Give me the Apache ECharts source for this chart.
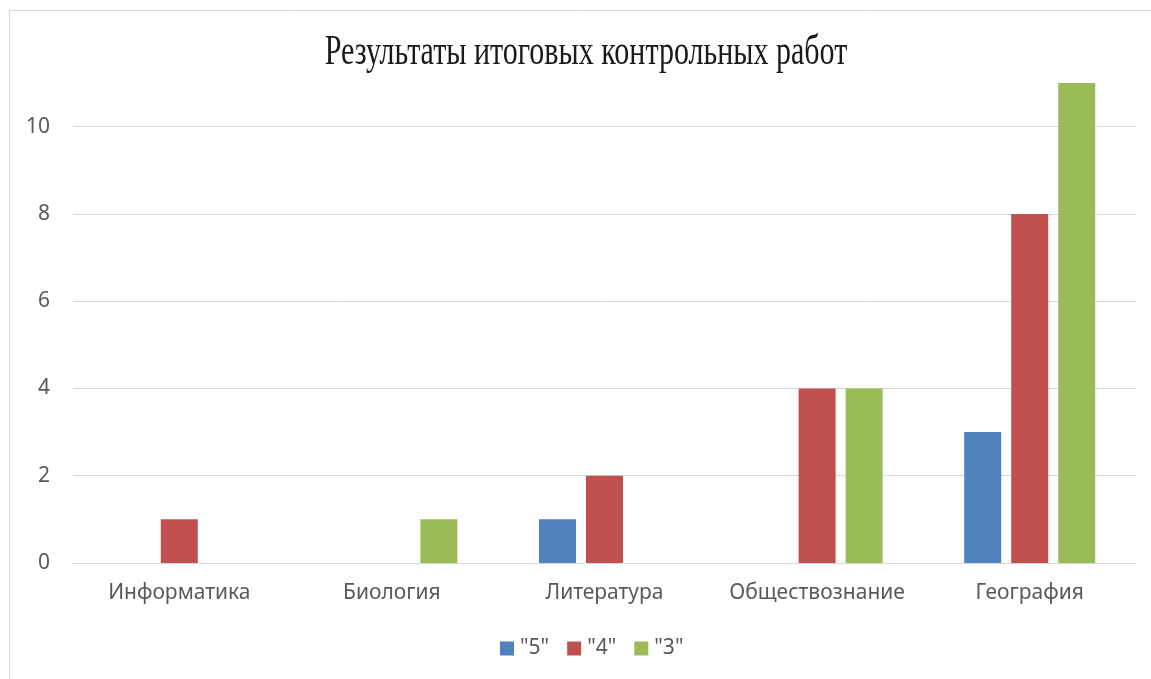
<!DOCTYPE html>
<html><head><meta charset="utf-8">
<script src="https://cdn.jsdelivr.net/npm/echarts@6/dist/echarts.min.js"></script>
<style>html,body{margin:0;padding:0;background:#fff}#c{width:1151px;height:679px}</style>
</head><body><div id="c"></div>
<script>
const categories = ['Информатика', 'Биология', 'Литература', 'Обществознание', 'География'];
const grade5 = [0, 0, 1, 0, 3];
const grade4 = [1, 0, 2, 4, 8];
const grade3 = [0, 1, 0, 4, 11];
const seriesNames = ['"5"', '"4"', '"3"'];
const titleText = 'Результаты итоговых контрольных работ';

const chart = echarts.init(document.getElementById('c'));
const font = 'Noto Sans';
const grid = '#d9d9d9';
chart.setOption({
  animation: false,
  backgroundColor: '#fff',
  graphic: [
    { type: 'rect', shape: { x: 9.5, y: 10.5, width: 1160, height: 700 }, style: { fill: 'none', stroke: '#d9d9d9', lineWidth: 1 }, silent: true },
    { type: 'text', x: 586, y: 53, scaleX: 0.715, style: { text: titleText, font: '42px "Liberation Serif"', fill: '#1a1a1a', textAlign: 'center', textVerticalAlign: 'middle' } }
  ],
  legend: {
    data: seriesNames, top: 633, left: 495,
    itemWidth: 14, itemHeight: 14, itemGap: 18,
    icon: 'rect',
    textStyle: { fontFamily: font, fontSize: 21, color: '#595959', padding: [0, 0, 0, 1] }
  },
  grid: { left: 73, right: 15, top: 83, bottom: 116, containLabel: false },
  xAxis: {
    type: 'category', data: categories,
    axisLine: { lineStyle: { color: grid, width: 1 } },
    axisTick: { show: false },
    axisLabel: { fontFamily: font, fontSize: 21, color: '#595959', margin: 20, interval: 0, hideOverlap: false }
  },
  yAxis: {
    type: 'value', min: 0, max: 11, interval: 2,
    axisLine: { show: false }, axisTick: { show: false },
    axisLabel: { fontFamily: font, fontSize: 21, color: '#595959', margin: 23, showMaxLabel: false,
      formatter: v => (v === 11 ? '' : String(v)) },
    splitLine: { lineStyle: { color: [grid, grid, grid, grid, grid, grid, 'rgba(0,0,0,0)'], width: 1 } }
  },
  series: [
    { name: seriesNames[0], type: 'bar', data: grade5, barWidth: 37, barGap: '27%', itemStyle: { color: '#4F81BD' } },
    { name: seriesNames[1], type: 'bar', data: grade4, barWidth: 37, barGap: '27%', itemStyle: { color: '#C0504D' } },
    { name: seriesNames[2], type: 'bar', data: grade3, barWidth: 37, barGap: '27%', itemStyle: { color: '#9BBB59' } }
  ]
});
</script></body></html>
